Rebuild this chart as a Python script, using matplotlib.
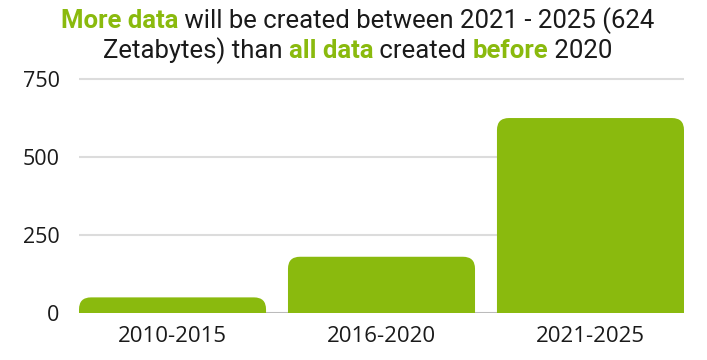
import matplotlib
matplotlib.use("Agg")
import matplotlib.pyplot as plt
from matplotlib.patches import FancyBboxPatch

categories = ["2010-2015", "2016-2020", "2021-2025"]
values = [50, 180, 624]
yticks = [0, 250, 500, 750]

title_lines = [
    [("More data", True), (" will be created between 2021 - 2025 (624", False)],
    [("Zetabytes) than ", False), ("all data", True), (" created ", False),
     ("before", True), (" 2020", False)],
]

green = "#8aba0e"
W, H, DPI = 7.07, 3.6, 100
plt.rcParams["font.family"] = ["Open Sans", "DejaVu Sans"]

fig = plt.figure(figsize=(W, H), dpi=DPI)
left, right = 79 / 707, 684 / 707
bottom, top = 1 - 313 / 360, 1 - 77.1 / 360
ax = fig.add_axes([left, bottom, right - left, top - bottom])

bw = 0.895
xlim = (-bw / 2, len(categories) - 1 + bw / 2)
ylim = (0, 755)
ax.set_xlim(*xlim)
ax.set_ylim(*ylim)

# px per data unit, used to get round corners in pixels
px_x = (right - left) * W * DPI / (xlim[1] - xlim[0])
px_y = (top - bottom) * H * DPI / (ylim[1] - ylim[0])
r_px = 12
rx = r_px / px_x
aspect = px_x / px_y

for i, v in enumerate(values):
    # extend below 0 so bottom corners are clipped away
    ext = r_px / px_y * 2
    p = FancyBboxPatch((i - bw / 2, -ext), bw, v + ext,
                       boxstyle=f"round,pad=0,rounding_size={rx}",
                       mutation_aspect=aspect, facecolor=green,
                       edgecolor="none", zorder=3)
    ax.add_patch(p)

for t in yticks[1:]:
    ax.axhline(t, color="#dcdcdc", lw=1.5, zorder=1)
ax.axhline(0, color="#bbbbbb", lw=1.5, zorder=1)

ax.set_xticks(range(len(categories)))
ax.set_xticklabels(categories, fontsize=16, color="#1a1a1a")
ax.set_yticks(yticks)
ax.set_yticklabels([str(t) for t in yticks], fontsize=15.5, color="#1a1a1a")
ax.tick_params(length=0)
ax.tick_params(axis="x", pad=9)
ax.tick_params(axis="y", pad=14)
for s in ax.spines.values():
    s.set_visible(False)

# title built from colored segments, centered
renderer = fig.canvas.get_renderer()
line_y = [1 - 21 / 360, 1 - 51 / 360]
for segs, y in zip(title_lines, line_y):
    texts = []
    for s, bold in segs:
        t = fig.text(0, y, s, fontsize=18.5, va="center", ha="left",
                     color=green if bold else "#1a1a1a",
                     fontweight="bold" if bold else "normal",
                     family=["Roboto", "DejaVu Sans"])
        texts.append(t)
    widths = [t.get_window_extent(renderer).width for t in texts]
    total = sum(widths)
    x = (W * DPI - total) / 2 + 4
    for t, w in zip(texts, widths):
        t.set_x(x / (W * DPI))
        x += w

fig.savefig("out.png", dpi=DPI)
